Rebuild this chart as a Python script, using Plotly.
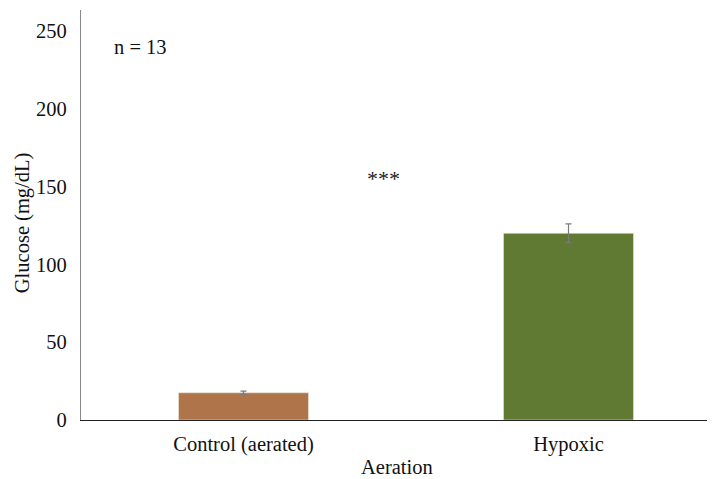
import plotly.graph_objects as go

categories = ["Control (aerated)", "Hypoxic"]
glucose = [17.5, 120.0]
errors = [1.0, 6.0]
bar_colors = ["#B0744A", "#617A33"]
y_ticks = [0, 50, 100, 150, 200, 250]

FONT = "Liberation Serif, Times New Roman, serif"
FS = 20.5

# page body has an 8px margin, so the figure is sized to fit the window
W, H = 707, 471
L, R, T, B = 73, 2, 2, 59
PW = W - L - R
PH = H - T - B

fig = go.Figure()
fig.add_trace(go.Bar(
    x=categories, y=glucose,
    marker=dict(color=bar_colors, line=dict(color="#E8E8E0", width=0.6)),
    width=0.4,
    error_y=dict(type="data", array=errors, visible=True, color="#7a7a7a",
                 thickness=1.2, width=3),
))

fig.add_annotation(x=-0.318, y=240, xref="x", yref="y", text="n = 13",
                   showarrow=False, font=dict(family=FONT, size=FS, color="#111"))
fig.add_annotation(x=0.43, y=155, xref="x", yref="y", text="***",
                   showarrow=False, font=dict(family=FONT, size=22, color="#222"))
fig.add_annotation(x=0.5, y=-(459 - (T + PH)) / PH, xref="paper", yref="paper",
                   text="Aeration", showarrow=False, xanchor="center", yanchor="middle",
                   font=dict(family=FONT, size=FS, color="#111"))
fig.add_annotation(x=(14 - L) / PW, y=0.48, xref="paper", yref="paper",
                   text="Glucose (mg/dL)", showarrow=False, textangle=-90,
                   xanchor="center", yanchor="middle",
                   font=dict(family=FONT, size=FS, color="#111"))

fig.update_layout(
    width=W, height=H,
    margin=dict(l=L, r=R, t=T, b=B),
    plot_bgcolor="white", paper_bgcolor="white",
    showlegend=False,
    font=dict(family=FONT, size=FS, color="#111"),
    xaxis=dict(range=[-0.5, -0.5 + PW / 325.0], showline=True,
               linecolor="#222", linewidth=1.2, ticks="", showgrid=False,
               ticklabelstandoff=5, tickfont=dict(family=FONT, size=FS)),
    yaxis=dict(range=[0, 263.5], tickvals=y_ticks, showline=True,
               linecolor="#888", linewidth=1.2, ticks="", showgrid=False,
               zeroline=False, ticklabelstandoff=9,
               tickfont=dict(family=FONT, size=FS)),
)

fig.write_html("out.html")
